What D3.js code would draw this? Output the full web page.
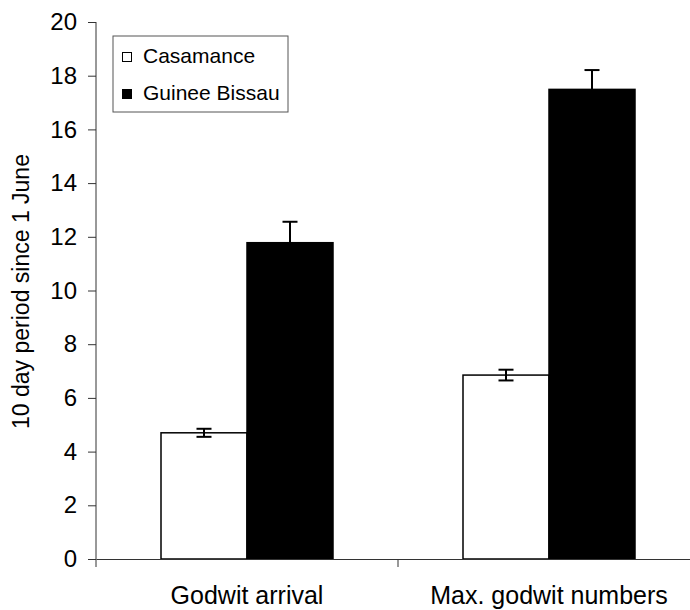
<!DOCTYPE html>
<html>
<head>
<meta charset="utf-8">
<script src="https://cdn.jsdelivr.net/npm/d3@7"></script>
<style>
  body { margin: 0; background: #fff; }
  text { font-family: "Liberation Sans", Arial, sans-serif; fill: #000; }
</style>
</head>
<body>
<div id="chart"></div>
<script>
// values
const categories = ['Godwit arrival', 'Max. godwit numbers'];
const series = ['Casamance', 'Guinee Bissau'];
const casamanceMeans = [4.70, 6.85];
const casamanceErrors = [0.15, 0.20];
const guineeMeans = [11.78, 17.49];
const guineeErrors = [0.78, 0.72];
const yTicks = [0, 2, 4, 6, 8, 10, 12, 14, 16, 18, 20];
const yLabel = '10 day period since 1 June';

const width = 690, height = 610;
const margin = {left: 96, top: 22, bottom: 51};
const fills = ['#fff', '#000'];

const svg = d3.select('#chart').append('svg')
  .attr('width', width)
  .attr('height', height);

const x0 = d3.scaleBand().domain(categories).range([margin.left, 700]);
const x1 = d3.scaleBand().domain(series).range([65, 237]);
const y = d3.scaleLinear().domain([0, 20]).range([height - margin.bottom, margin.top]);

const data = [];
categories.forEach((c, i) => {
  data.push({cat: c, s: series[0], v: casamanceMeans[i], e: casamanceErrors[i]});
  data.push({cat: c, s: series[1], v: guineeMeans[i], e: guineeErrors[i]});
});

// bars
svg.selectAll('rect.bar')
  .data(data)
  .enter()
  .append('rect')
  .attr('class', 'bar')
  .attr('x', d => x0(d.cat) + x1(d.s))
  .attr('y', d => y(d.v))
  .attr('width', x1.bandwidth())
  .attr('height', d => y(0) - y(d.v))
  .attr('fill', d => fills[series.indexOf(d.s)])
  .attr('stroke', '#000')
  .attr('stroke-width', 1.5);

// error bars
const err = svg.selectAll('g.err')
  .data(data)
  .enter()
  .append('g')
  .attr('class', 'err')
  .attr('stroke', '#000')
  .attr('stroke-width', 2);
const cx = d => x0(d.cat) + x1(d.s) + x1.bandwidth() / 2;
err.append('line')
  .attr('x1', cx).attr('x2', cx)
  .attr('y1', d => y(d.v - d.e)).attr('y2', d => y(d.v + d.e));
err.append('line')
  .attr('x1', d => cx(d) - 7.5).attr('x2', d => cx(d) + 7.5)
  .attr('y1', d => y(d.v + d.e)).attr('y2', d => y(d.v + d.e));
err.append('line')
  .attr('x1', d => cx(d) - 7.5).attr('x2', d => cx(d) + 7.5)
  .attr('y1', d => y(d.v - d.e)).attr('y2', d => y(d.v - d.e));

// y axis
const yAxis = svg.append('g')
  .attr('transform', `translate(${margin.left}, 0)`)
  .call(d3.axisLeft(y).tickValues(yTicks).tickSize(8).tickPadding(11).tickSizeOuter(0));
yAxis.select('.domain').attr('stroke', '#333').attr('d', `M0,${margin.top}V${y(0) + 8}`);
yAxis.selectAll('.tick line').attr('stroke', '#333');
yAxis.selectAll('.tick text')
  .style('font-size', '24px')
  .style('font-family', '"Liberation Sans", Arial, sans-serif')
  .attr('fill', '#000');

// x axis
const xAxis = svg.append('g')
  .attr('transform', `translate(0, ${y(0)})`)
  .call(d3.axisBottom(x0).tickSize(0).tickPadding(27).tickSizeOuter(0));
xAxis.select('.domain').attr('stroke', '#333');
xAxis.selectAll('.tick text')
  .style('font-size', '25px')
  .style('font-family', '"Liberation Sans", Arial, sans-serif')
  .attr('fill', '#000');
// divider tick between the categories
xAxis.selectAll('line.sep')
  .data(categories.slice(1))
  .enter()
  .append('line')
  .attr('class', 'sep')
  .attr('x1', d => x0(d)).attr('x2', d => x0(d))
  .attr('y1', 0).attr('y2', 8)
  .attr('stroke', '#333');

// y label
svg.append('text')
  .attr('transform', `translate(29, ${(margin.top + y(0)) / 2 + 1}) rotate(-90)`)
  .attr('text-anchor', 'middle')
  .style('font-size', '23px')
  .text(yLabel);

// legend
const legend = svg.append('g').attr('transform', 'translate(113, 36)');
legend.append('rect')
  .attr('width', 175).attr('height', 76)
  .attr('fill', '#fff').attr('stroke', '#555').attr('stroke-width', 1);
series.forEach((s, i) => {
  const row = legend.append('g').attr('transform', `translate(0, ${16 + i * 37})`);
  row.append('rect')
    .attr('x', 9.5).attr('y', 0.5)
    .attr('width', 9).attr('height', 9)
    .attr('fill', fills[i]).attr('stroke', '#000').attr('stroke-width', 1);
  row.append('text')
    .attr('x', 30).attr('y', 10.5)
    .style('font-size', '21px')
    .text(s);
});
</script>
</body>
</html>
